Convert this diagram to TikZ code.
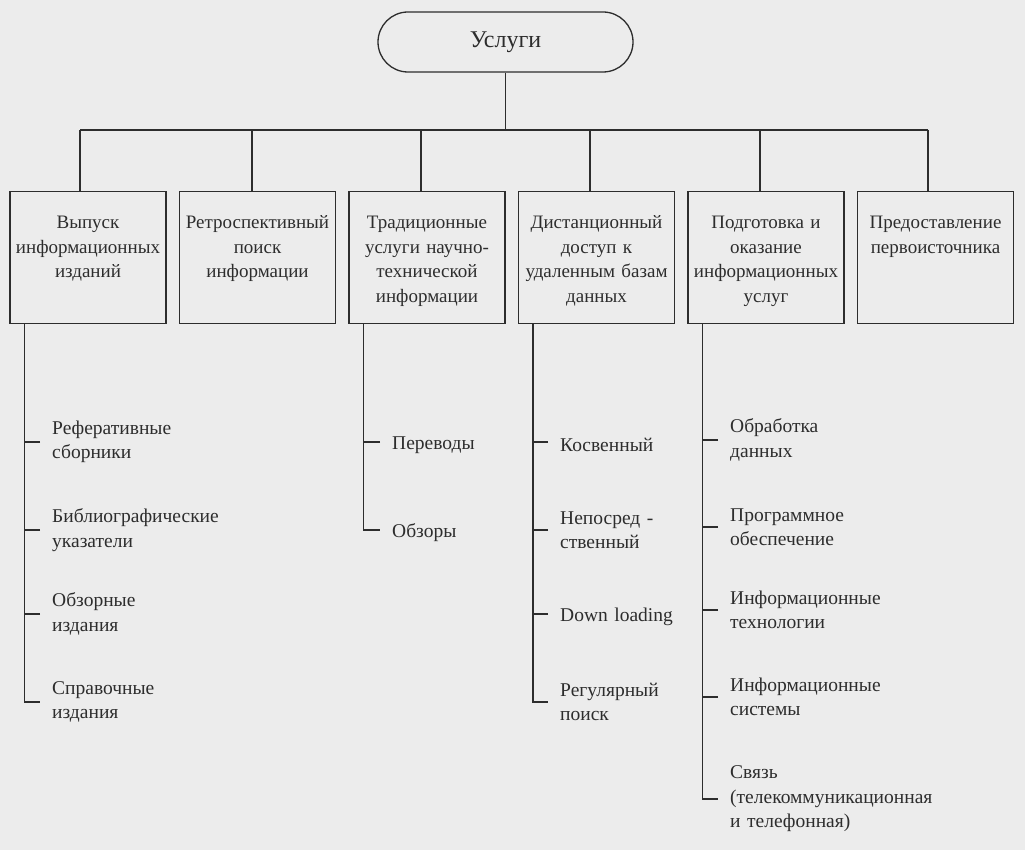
\documentclass[tikz,border=0pt]{standalone}
\usepackage{fontspec}
\setmainfont{Liberation Serif}
\definecolor{bg}{RGB}{236,236,236}
\definecolor{ink}{RGB}{45,45,45}
\begin{document}
\begin{tikzpicture}[x=1pt,y=-1pt,
  every node/.style={font=\fontsize{19.5}{24.5}\selectfont, text=ink},
  conn/.style={draw=ink, line width=1.3pt},
  topbox/.style={draw=ink, line width=1.3pt, rounded corners=30pt, minimum width=255pt, minimum height=60pt, inner sep=0pt, font=\fontsize{24}{28}\selectfont},
  catbox/.style={draw=ink, line width=1.3pt, inner xsep=0pt, inner ysep=0pt, text width=156pt, align=center, text height=37pt, text depth=95pt, anchor=north, font=\fontsize{19}{24.5}\selectfont},
  item/.style={anchor=west, inner xsep=12pt, inner ysep=0pt, text width=260pt, align=left}]
\fill[bg] (0,0) rectangle (1025,850);
\useasboundingbox (0,0) rectangle (1025,850);

\node[topbox] (top) at (505.5,42) {Услуги};

\node[catbox] (b1) at (88,191) {Выпуск\\информационных\\изданий};
\node[catbox] (b2) at (257.5,191) {Ретроспективный\\поиск\\информации};
\node[catbox] (b3) at (427,191) {Традиционные\\услуги научно-\\технической\\информации};
\node[catbox] (b4) at (596.5,191) {Дистанционный\\доступ к\\удаленным базам\\данных};
\node[catbox] (b5) at (766,191) {Подготовка и\\оказание\\информационных\\услуг};
\node[catbox] (b6) at (935.5,191) {Предоставление\\первоисточника};

\coordinate (c1) at (80,130);
\coordinate (c2) at (252,130);
\coordinate (c3) at (421,130);
\coordinate (c4) at (590,130);
\coordinate (c5) at (760,130);
\coordinate (c6) at (928,130);
\draw[conn] (c1) -- (c6);
\draw[conn] (top.south) -- (top.south |- c1);
\foreach \i in {1,...,6}{\draw[conn] (c\i) -- (c\i |- b\i.north);}

% column 1
\coordinate (v1) at ([xshift=15pt]b1.south west);
\node[item] (s11) at (40,442) {Реферативные\\сборники};
\node[item] (s12) at (40,530) {Библиографические\\указатели};
\node[item] (s13) at (40,614) {Обзорные\\издания};
\node[item] (s14) at (40,702) {Справочные\\издания};
\draw[conn] (v1) |- (s14.west);
\foreach \j in {1,2,3}{\draw[conn] (s1\j.west) -- (s1\j.west -| v1);}

% column 3
\coordinate (v3) at ([xshift=15pt]b3.south west);
\node[item, yshift=-3pt] (s31) at (380,442) {Переводы};
\node[item, yshift=-3pt] (s32) at (380,530) {Обзоры};
\draw[conn] (v3) |- ([yshift=3pt]s32.west);
\draw[conn] ([yshift=3pt]s31.west) -- ([yshift=3pt]s31.west -| v3);

% column 4
\coordinate (v4) at ([xshift=15pt]b4.south west);
\node[item, yshift=-3pt] (s41) at (548,442) {Косвенный};
\node[item] (s42) at (548,530) {Непосред -\\ственный};
\node[item, yshift=-3pt] (s43) at (548,614) {Down loading};
\node[item] (s44) at (548,702) {Регулярный\\поиск};
\draw[conn] (v4) |- (s44.west);
\draw[conn] ([yshift=3pt]s41.west) -- ([yshift=3pt]s41.west -| v4);
\draw[conn] (s42.west) -- (s42.west -| v4);
\draw[conn] ([yshift=3pt]s43.west) -- ([yshift=3pt]s43.west -| v4);

% column 5
\coordinate (v5) at ([xshift=15pt]b5.south west);
\node[item] (s51) at (718,440) {Обработка\\данных};
\node[item] (s52) at (718,527) {Программное\\обеспечение};
\node[item] (s53) at (718,610) {Информационные\\технологии};
\node[item] (s54) at (718,697) {Информационные\\системы};
\node[item] (s55) at (718,799) {Связь\\(телекоммуникационная\\и телефонная)};
\draw[conn] (v5) |- (s55.west);
\foreach \j in {1,2,3,4}{\draw[conn] (s5\j.west) -- (s5\j.west -| v5);}
\end{tikzpicture}
\end{document}
